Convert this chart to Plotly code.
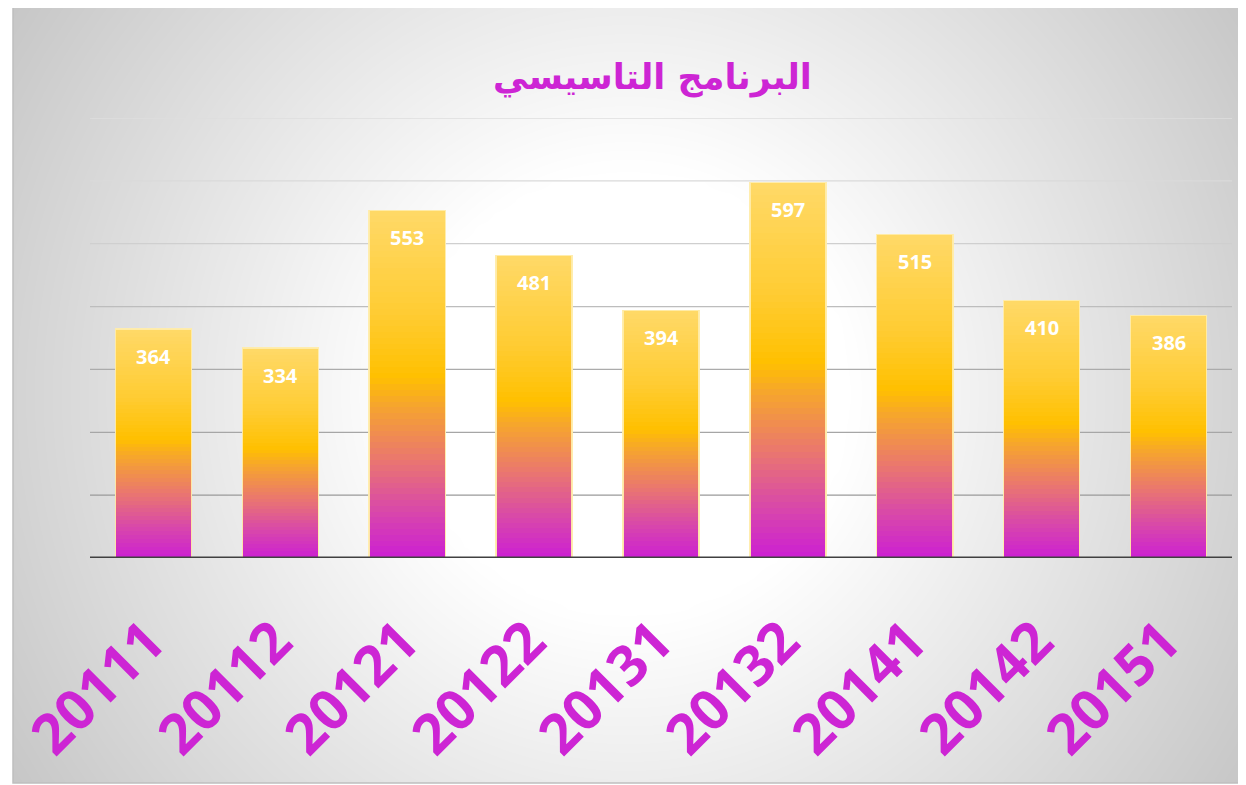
import numpy as np
import plotly.graph_objects as go

# ---------------- data ----------------
categories = ["20111", "20112", "20121", "20122", "20131", "20132", "20141", "20142", "20151"]
values = [364, 334, 553, 481, 394, 597, 515, 410, 386]
title_text = "البرنامج التاسيسي"
grid_values = [100, 200, 300, 400, 500, 600, 700]
grid_colors = ["#9A9A9A", "#A6A6A6", "#ABABAB", "#BDBDBD", "#CFCFCF", "#DADADA", "#DEDEDE"]

# page offset (browser body margin) -> work in screen px, convert to figure px
OFF = 8
W, H = 1246 - OFF, 785 - OFF
FX0, FX1, FY0, FY1 = 13 - OFF, 1243 - OFF, 0, 783 - OFF      # chart frame (fig px)
PX0, PX1, PY0, PY1 = 90 - OFF, 1232 - OFF, 118 - OFF, 558 - OFF  # plot area (fig px)

# bar gradient stops (fraction from top of bar -> rgb)
stops = [
    (0.00, (255, 217, 104)),
    (0.30, (255, 204, 50)),
    (0.48, (255, 192, 0)),
    (0.56, (246, 165, 45)),
    (0.72, (234, 118, 112)),
    (0.87, (216, 70, 172)),
    (1.00, (204, 32, 210)),
]


def grad_color(t):
    for (t0, c0), (t1, c1) in zip(stops[:-1], stops[1:]):
        if t0 <= t <= t1:
            f = (t - t0) / (t1 - t0)
            c = [round(a + (b - a) * f) for a, b in zip(c0, c1)]
            return "rgb({},{},{})".format(*c)
    return "rgb({},{},{})".format(*stops[-1][1])


fig = go.Figure()

# ---- background radial gradient (heatmap on its own full-frame axes) ----
xs = np.linspace(FX0, FX1, 80)
ys = np.linspace(FY0, FY1, 50)
XX, YY = np.meshgrid(xs, ys)
rr = np.sqrt((XX - (628 - OFF)) ** 2 + (YY - (393 - OFF)) ** 2)
bright = np.clip(255 - 0.111 * (rr - 220), 190, 255)
fig.add_trace(go.Heatmap(
    x=xs, y=ys, z=bright, zmin=190, zmax=255, zsmooth="best",
    colorscale=[[0, "rgb(190,190,190)"], [1, "rgb(255,255,255)"]],
    showscale=False, hoverinfo="skip", xaxis="x", yaxis="y",
))

# ---- gradient bars: stacked slices ----
N = 60
for k in range(N):
    t = 1 - (k + 0.5) / N
    fig.add_trace(go.Bar(
        x=categories, y=[v / N for v in values],
        marker=dict(color=grad_color(t), line=dict(width=0)),
        xaxis="x2", yaxis="y2", hoverinfo="skip", showlegend=False,
    ))

# ---- bar outlines ----
fig.add_trace(go.Bar(
    x=categories, y=values,
    marker=dict(color="rgba(0,0,0,0)", line=dict(color="rgba(255,236,170,0.95)", width=1.5)),
    xaxis="x3", yaxis="y3", hoverinfo="skip", showlegend=False,
))

nC = len(categories)
shapes = []
for gv, gc in zip(grid_values, grid_colors):
    shapes.append(dict(type="line", xref="x2", yref="y2", x0=-0.5, x1=nC - 0.5, y0=gv, y1=gv,
                       line=dict(color=gc, width=1.3), layer="below"))
# baseline
shapes.append(dict(type="line", xref="x2", yref="y2", x0=-0.5, x1=nC - 0.5, y0=0, y1=0,
                   line=dict(color="#404040", width=3), layer="above"))
# frame
shapes.append(dict(type="rect", xref="paper", yref="paper",
                   x0=FX0 / W, x1=FX1 / W, y0=1 - FY1 / H, y1=1.01,
                   line=dict(color="#BFBFBF", width=1.5), fillcolor="rgba(0,0,0,0)", layer="above"))

annotations = []
for i, v in enumerate(values):
    annotations.append(dict(x=i, y=v, xref="x2", yref="y2", yshift=-27, showarrow=False,
                            text=str(v), yanchor="middle",
                            font=dict(family="Open Sans", size=20, color="white", weight=700)))
annotations.append(dict(x=(652 - OFF) / W, y=1 - (78 - OFF) / H, xref="paper", yref="paper",
                        showarrow=False, text=title_text, yanchor="middle", xanchor="center",
                        font=dict(family="DejaVu Sans", size=35, color="#CD25D4", weight=700)))

fig.update_layout(
    width=W, height=H,
    margin=dict(l=0, r=0, t=0, b=0, autoexpand=False),
    paper_bgcolor="white", plot_bgcolor="rgba(0,0,0,0)",
    barmode="stack", bargap=0.4,
    showlegend=False,
    shapes=shapes, annotations=annotations,
    xaxis=dict(domain=[FX0 / W, FX1 / W], range=[FX0, FX1], visible=False, fixedrange=True),
    yaxis=dict(domain=[1 - FY1 / H, 1], range=[FY1, FY0], visible=False, fixedrange=True),
    xaxis2=dict(domain=[PX0 / W, PX1 / W], anchor="y2", type="category",
                categoryorder="array", categoryarray=categories, automargin=False,
                range=[-0.5, nC - 0.5], showgrid=False, zeroline=False, showline=False,
                ticks="", tickangle=-45, ticklabelstandoff=38, ticklabelshift=-5,
                tickfont=dict(family="Open Sans", size=56, color="#CD25D4", weight=700)),
    yaxis2=dict(domain=[1 - PY1 / H, 1 - PY0 / H], anchor="x2", range=[0, 700], automargin=False,
                showgrid=False, zeroline=False, showticklabels=False, ticks=""),
    xaxis3=dict(overlaying="x2", type="category", categoryorder="array", categoryarray=categories,
                range=[-0.5, nC - 0.5], visible=False),
    yaxis3=dict(overlaying="y2", range=[0, 700], visible=False),
)

fig.write_html("out.html")
